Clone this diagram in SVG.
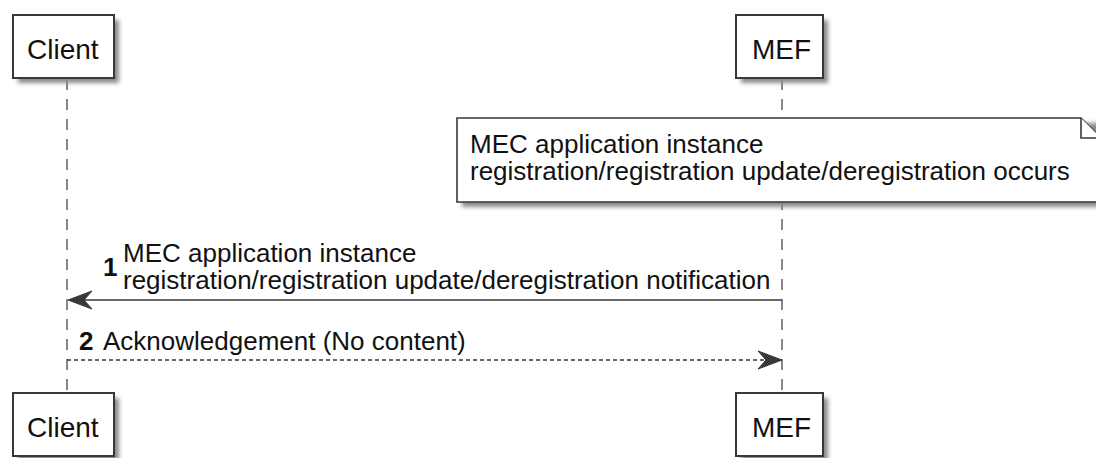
<svg xmlns="http://www.w3.org/2000/svg" width="1096" height="458" viewBox="0 0 1096 458">
<style>
.box{fill:#fff;stroke:#383838;stroke-width:2}
.shadow{fill:#8a8a8a;filter:url(#blur)}
.life{stroke:#383838;stroke-width:1.2;stroke-dasharray:11,9;fill:none}
.pt{font-family:"Liberation Sans",Arial,sans-serif;font-size:28px;fill:#111}
.t{font-family:"Liberation Sans",Arial,sans-serif;font-size:26px;fill:#111}
.n{font-family:"Liberation Sans",Arial,sans-serif;font-size:26px;font-weight:bold;fill:#111}
.msg{stroke:#383838;stroke-width:1.6;fill:none}
.dash{stroke-dasharray:4,3}
.head{fill:#383838;stroke:#383838;stroke-width:1}
.note{fill:#fff;stroke:#383838;stroke-width:1.6}
</style>
<defs>
<filter id="blur" x="-10%" y="-10%" width="120%" height="130%"><feGaussianBlur stdDeviation="2"/></filter>
</defs>
<g id="lifelines">
<line class="life" x1="67" y1="79" x2="67" y2="393"/>
<line class="life" x1="782" y1="79" x2="782" y2="393"/>
</g>
<g id="client-top">
<rect class="shadow" x="18" y="20" width="101" height="63"/>
<rect class="box" x="13" y="15" width="101" height="63"/>
<text class="pt" x="27" y="59">Client</text>
</g>
<g id="mef-top">
<rect class="shadow" x="741" y="20" width="87" height="63"/>
<rect class="box" x="736" y="15" width="87" height="63"/>
<text class="pt" x="752" y="59">MEF</text>
</g>
<g id="client-bottom">
<rect class="shadow" x="18" y="398" width="101" height="63"/>
<rect class="box" x="13" y="393" width="101" height="63"/>
<text class="pt" x="27" y="437">Client</text>
</g>
<g id="mef-bottom">
<rect class="shadow" x="741" y="398" width="87" height="63"/>
<rect class="box" x="736" y="393" width="87" height="63"/>
<text class="pt" x="752" y="437">MEF</text>
</g>
<g id="note">
<path class="shadow" d="M462,123 H1106 V207 H462 Z"/>
<path class="note" d="M457,118 H1081 L1101,138 V202 H457 Z"/>
<path class="note" d="M1081,118 V138 H1101" fill="none"/>
<text class="t" x="470" y="153">MEC application instance</text>
<text class="t" x="470" y="180">registration/registration update/deregistration occurs</text>
</g>
<g id="connectors">
<g id="msg1">
<line class="msg" x1="72" y1="300" x2="782" y2="300"/>
<polygon class="head" points="68,300 92,291 84,300 92,309"/>
<text class="n" x="103" y="276">1</text>
<text class="t" x="123" y="262">MEC application instance</text>
<text class="t" x="123" y="289">registration/registration update/deregistration notification</text>
</g>
<g id="msg2">
<line class="msg dash" x1="67" y1="360" x2="776" y2="360"/>
<polygon class="head" points="782,360 758,351 766,360 758,369"/>
<text class="n" x="79" y="350">2</text>
<text class="t" x="103" y="350">Acknowledgement (No content)</text>
</g>
</g>
</svg>
